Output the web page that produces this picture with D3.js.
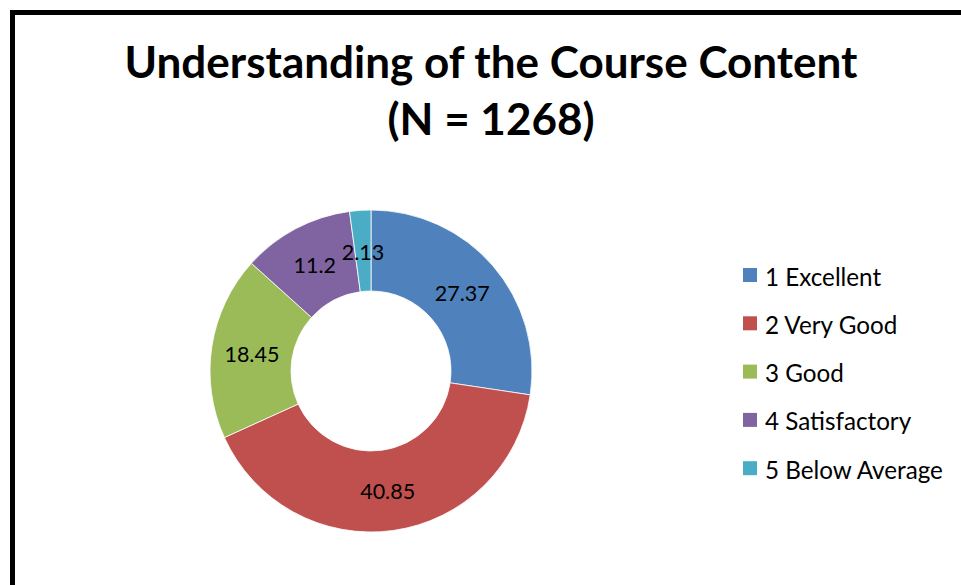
<!DOCTYPE html>
<html>
<head>
<meta charset="utf-8">
<script src="https://cdn.jsdelivr.net/npm/d3@7"></script>
<style>
  html, body { margin: 0; padding: 0; background: #fff; overflow: hidden; }
  text { font-family: Lato, "Open Sans", sans-serif; fill: #000; }
</style>
</head>
<body>
<div id="chart"></div>
<script>
// datos
const categories = ["1 Excellent", "2 Very Good", "3 Good", "4 Satisfactory", "5 Below Average"];
const values = [27.37, 40.85, 18.45, 11.2, 2.13];
const colours = ["#4F81BD", "#C0504D", "#9BBB59", "#8064A2", "#4BACC6"];
const titleLines = ["Understanding of the Course Content", "(N = 1268)"];

const width = 961;
const height = 585;

const svg = d3.select("#chart").append("svg")
    .attr("width", width)
    .attr("height", height);

// ajusta el tamaño de letra para que el texto mida lo que mide en la imagen
function fitSize(sel, base, target) {
    const len = sel.node().getComputedTextLength();
    return base * target / len;
}

// marco negro (se sale por la derecha y abajo)
svg.append("rect")
    .attr("x", 12.5).attr("y", 12.5)
    .attr("width", 1000).attr("height", 1000)
    .attr("fill", "none")
    .attr("stroke", "#000")
    .attr("stroke-width", 5);

// titulo
const title = svg.append("g").attr("id", "title");
const t1 = title.append("text")
    .attr("x", 491).attr("y", 78)
    .attr("text-anchor", "middle")
    .attr("font-weight", "bold")
    .attr("font-size", 42)
    .text(titleLines[0]);
const titleSize = fitSize(t1, 42, 733);
t1.attr("font-size", titleSize);
title.append("text")
    .attr("x", 491).attr("y", 135)
    .attr("text-anchor", "middle")
    .attr("font-weight", "bold")
    .attr("font-size", titleSize)
    .text(titleLines[1]);

// donut
const cx = 371, cy = 371;
const outerR = 161, innerR = 80;
const data = categories.map((c, i) => ({ name: c, value: values[i], color: colours[i] }));

const pie = d3.pie().value(d => d.value).sort(null);
const arc = d3.arc().innerRadius(innerR).outerRadius(outerR);
const labelArc = d3.arc().innerRadius((innerR + outerR) / 2).outerRadius((innerR + outerR) / 2);

const donut = svg.append("g").attr("transform", `translate(${cx}, ${cy})`);
const arcs = pie(data);

donut.selectAll("path").data(arcs)
    .enter().append("path")
    .attr("d", arc)
    .attr("fill", d => d.data.color)
    .attr("stroke", "#fff")
    .attr("stroke-width", 0.8);

const labels = donut.selectAll("text").data(arcs)
    .enter().append("text")
    .attr("transform", d => {
        const c = labelArc.centroid(d);
        return `translate(${c[0]}, ${c[1] + 1})`;
    })
    .attr("text-anchor", "middle")
    .attr("dominant-baseline", "central")
    .attr("font-size", 21)
    .text(d => d.data.value);
labels.attr("font-size", fitSize(labels.filter((d, i) => i === 0), 21, 55));

// leyenda
const legend = svg.append("g").attr("transform", "translate(743, 275)");
const items = legend.selectAll("g").data(data)
    .enter().append("g")
    .attr("transform", (d, i) => `translate(0, ${i * 48.3})`);
items.append("rect")
    .attr("x", 0).attr("y", -7)
    .attr("width", 14).attr("height", 14)
    .attr("fill", d => d.color);
const legText = items.append("text")
    .attr("x", 22).attr("y", 1)
    .attr("dominant-baseline", "central")
    .attr("font-size", 22)
    .text(d => d.name);
legText.attr("font-size", fitSize(legText.filter((d, i) => i === 4), 22, 178));
</script>
</body>
</html>
